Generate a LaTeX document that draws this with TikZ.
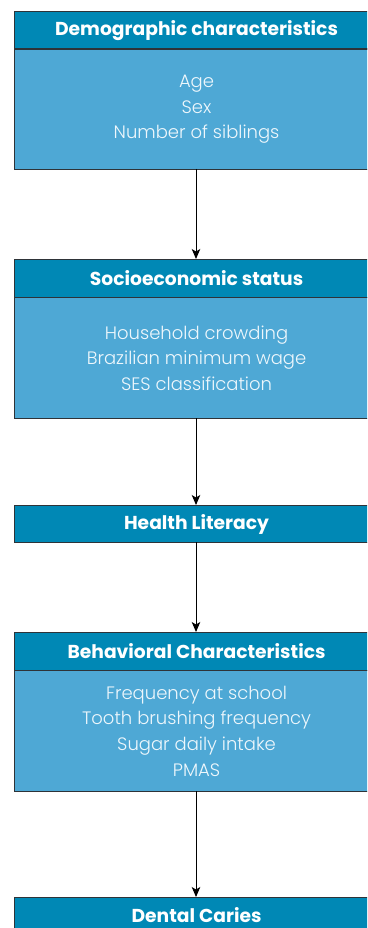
\documentclass[tikz,border=0pt]{standalone}
\usepackage{fontspec}
\setmainfont{Poppins}[UprightFont=* Light, BoldFont=* Bold]
\usetikzlibrary{arrows.meta,positioning}
\definecolor{headblue}{HTML}{0088B5}
\definecolor{bodyblue}{HTML}{4EA8D5}
\definecolor{edgegray}{HTML}{2E3338}
\definecolor{bodytext}{HTML}{EEF7FC}
\begin{document}
\begin{tikzpicture}[x=1pt,y=-1pt,
  headbox/.style={draw=edgegray,line width=1.1pt,fill=headblue,text=white,
    minimum width=364pt,inner sep=0pt,anchor=north west,
    font=\fontsize{18.7}{20}\selectfont\bfseries},
  bodybox/.style={draw=edgegray,line width=1.1pt,fill=bodyblue,text=bodytext,
    minimum width=364pt,inner sep=0pt,anchor=north west,align=center,
    font=\fontsize{18}{25.7}\selectfont},
  link/.style={draw=black,line width=0.9pt,-{Stealth[length=10pt,width=8.5pt,inset=2.5pt]}}]
\useasboundingbox (0,0) rectangle (367,928);
\clip (0,0) rectangle (367,928);
% box 1
\node[bodybox,minimum height=120.5pt] (b1) at (14,48.5) {Age\\Sex\\Number of siblings};
\node[headbox,minimum height=37.5pt] (h1) at (14,11) {Demographic characteristics};
% box 2
\node[bodybox,minimum height=121pt] (b2) at (14,297) {Household crowding\\Brazilian minimum wage\\SES classification};
\node[headbox,minimum height=38pt] (h2) at (14,259) {Socioeconomic status};
% box 3
\node[headbox,minimum height=37pt] (h3) at (14,505) {Health Literacy};
% box 4
\node[bodybox,minimum height=121pt] (b4) at (14,670) {Frequency at school\\Tooth brushing frequency\\Sugar daily intake\\PMAS};
\node[headbox,minimum height=38pt] (h4) at (14,632) {Behavioral Characteristics};
% box 5
\node[headbox,minimum height=35.5pt] (h5) at (14,897) {Dental Caries};
% connectors
\coordinate (c1) at (196,169);
\coordinate (c2) at (196,418);
\coordinate (c3) at (196,542);
\coordinate (c4) at (196,791);
\draw[link] (c1) -- (h2.north -| c1);
\draw[link] (c2) -- (h3.north -| c2);
\draw[link] (c3) -- (h4.north -| c3);
\draw[link] (c4) -- (h5.north -| c4);
\end{tikzpicture}
\end{document}
